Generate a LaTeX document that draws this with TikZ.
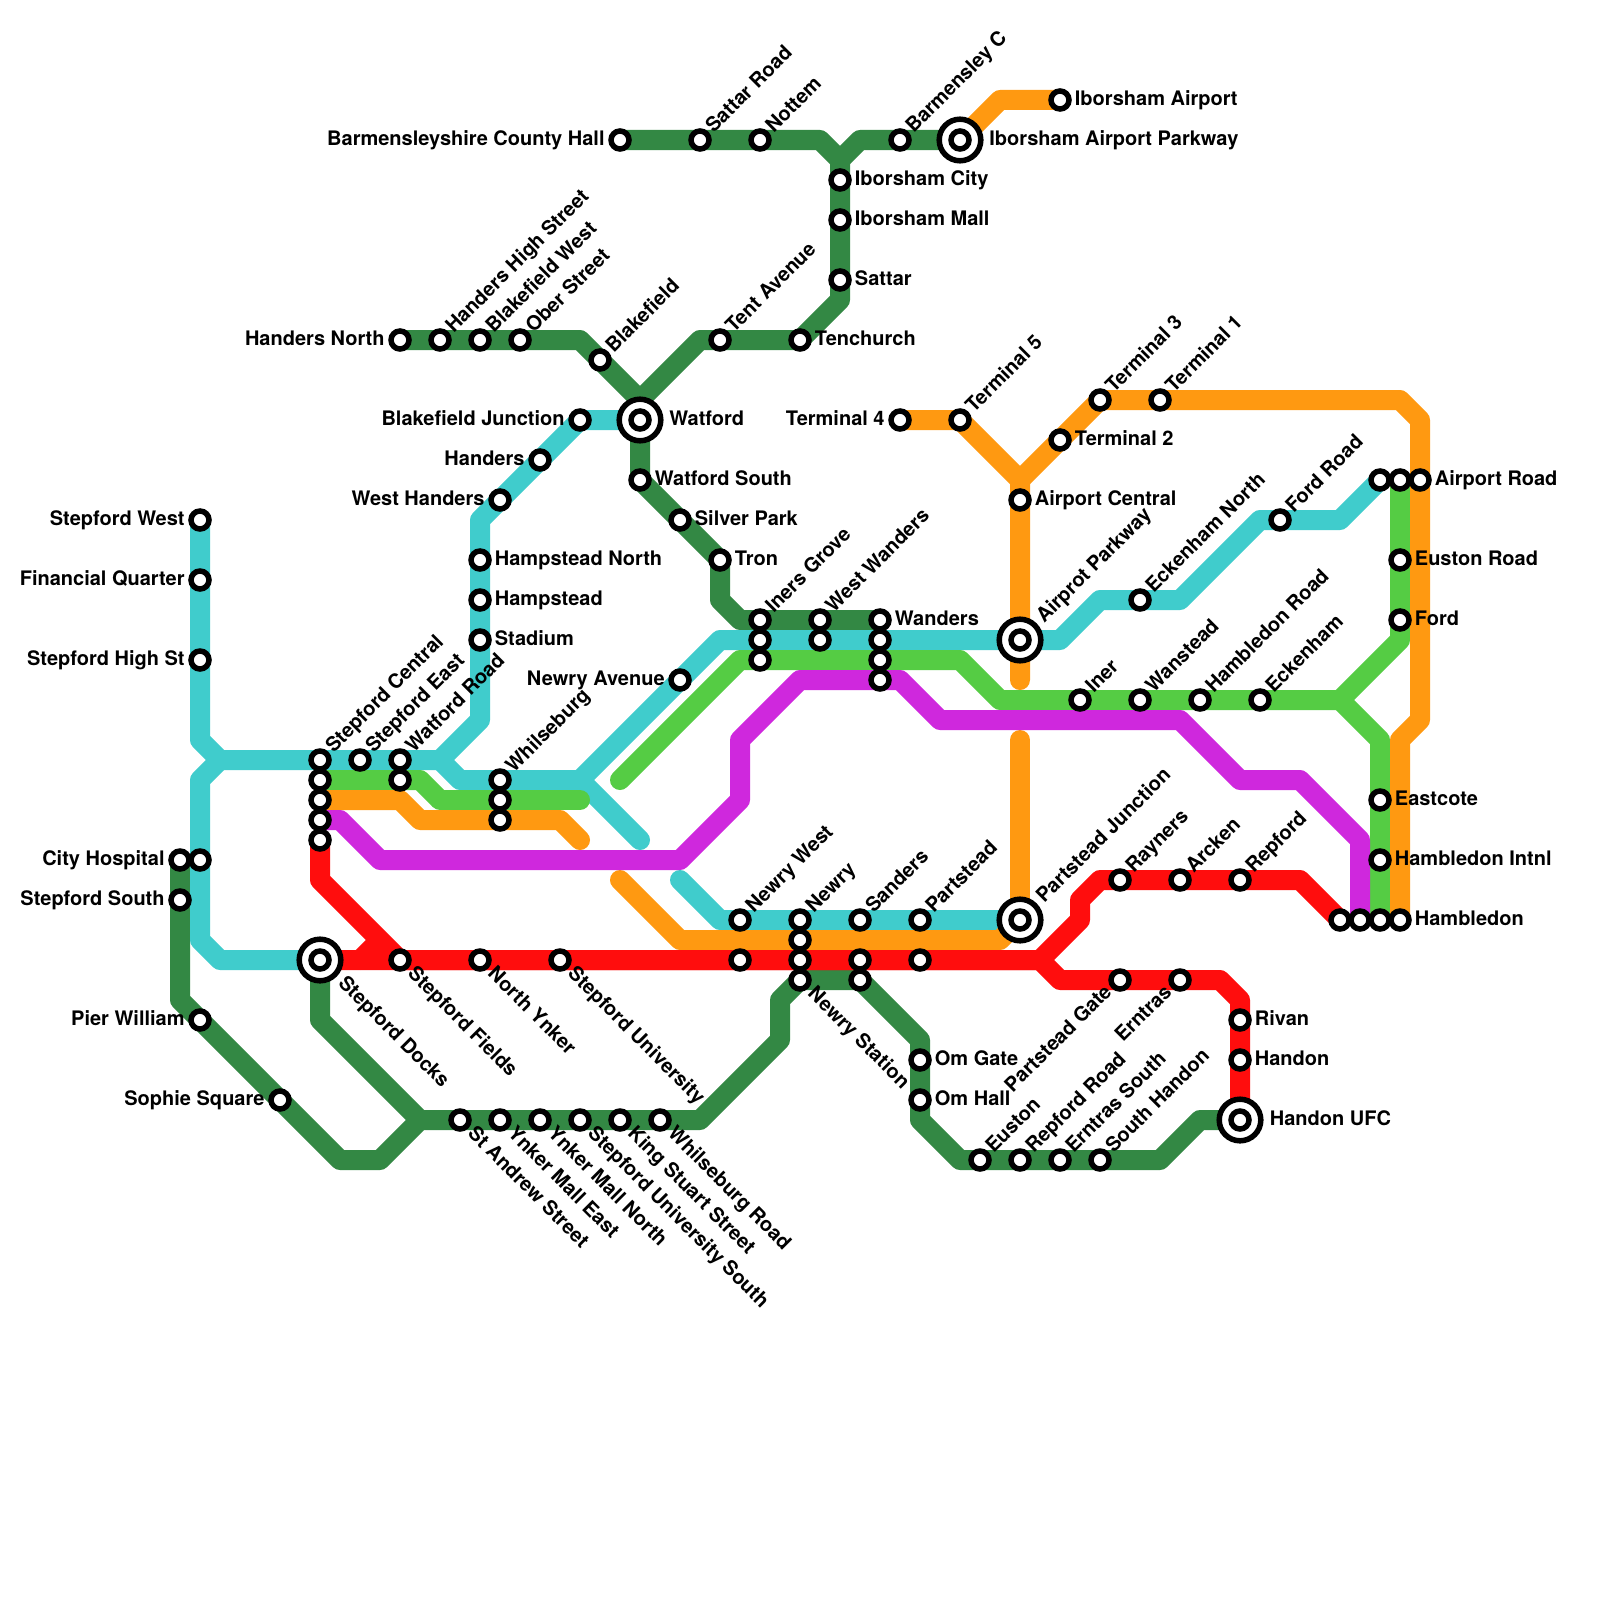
\documentclass[tikz,border=0pt]{standalone}
\usepackage{fontspec}
\setmainfont{TeX Gyre Heros}
\usetikzlibrary{backgrounds}
\definecolor{lred}{HTML}{FF0D0D}
\definecolor{ldg}{HTML}{338844}
\definecolor{lcy}{HTML}{40CCCC}
\definecolor{llg}{HTML}{55CC44}
\definecolor{lor}{HTML}{FF9911}
\definecolor{lpu}{HTML}{CF28DD}
\tikzset{
  metro/.style={line width=10pt,line join=round,line cap=butt},
  cyline/.style={metro,draw=lcy}, dgline/.style={metro,draw=ldg}, lgline/.style={metro,draw=llg},
  orline/.style={metro,draw=lor}, puline/.style={metro,draw=lpu}, rdline/.style={metro,draw=lred},
  roundend/.style={line cap=round},
  stn/.style={circle,draw=black,fill=white,line width=2.75pt,minimum size=9pt,inner sep=0pt},
  hub/.style={circle,draw=black,fill=white,line width=2.75pt,minimum size=20.8pt,inner sep=0pt},
  lbl/.style={inner sep=0pt,font=\bfseries\fontsize{10}{12}\selectfont,text=black},
  lblR/.style={lbl,anchor=base west},
  lblL/.style={lbl,anchor=base east},
  lblU/.style={lbl,anchor=base west,rotate=45},
  lblE/.style={lbl,anchor=base east,rotate=45},
  lblD/.style={lbl,anchor=base west,rotate=-45},
}
\begin{document}
\begin{tikzpicture}[x=0.5pt,y=-0.5pt]
% hubs
\foreach \n/\x/\y in {sd/320/960,wat/640/420,iap/960/140,apw/1020/640,pj/1020/920,hu/1240/1120}
  \node[hub] (\n-ring) at (\x,\y) {};
% unlabelled stations
\foreach \n/\x/\y in {sc2/320/780,sc3/320/800,sc4/320/820,sc5/320/840,wr2/400/780,wb2/500/800,wb3/500/820,
  ig2/760/640,ig3/760/660,ww2/820/640,wa2/880/640,wa3/880/660,wa4/880/680,ch2/200/860,
  nw2/740/960,ne2/800/940,ne3/800/960,sa2/860/960,sa3/860/980,pa2/920/960,
  ham1/1340/920,ham2/1360/920,ham3/1380/920,ar1/1380/480,ar2/1400/480}
  \node[stn] (\n) at (\x,\y) {};
% stations, labelled to the right
\foreach \n/\x/\y/\t in {hn/480/560/Hampstead North,hm/480/600/Hampstead,std/480/640/Stadium,
  ws/640/480/Watford South,sp/680/520/Silver Park,tr/720/560/Tron,tc/800/340/Tenchurch,
  sat/840/280/Sattar,imall/840/220/Iborsham Mall,icity/840/180/Iborsham City,
  ia/1060/100/Iborsham Airport,t2/1060/440/Terminal 2,ac/1020/500/Airport Central,wa/880/620/Wanders,
  ar/1420/480/Airport Road,eu/1400/560/Euston Road,fo/1400/620/Ford,ea/1380/800/Eastcote,
  hi/1380/860/Hambledon Intnl,ham/1400/920/Hambledon,ri/1240/1020/Rivan,ha/1240/1060/Handon,
  og/920/1060/Om Gate,oh/920/1100/Om Hall}{
  \node[stn] (\n) at (\x,\y) {};
  \node[lblR] (\n-l) at (\x+14.5,\y+5.5) {\t};
}
% stations, labelled to the left
\foreach \n/\x/\y/\t in {sw/200/520/Stepford West,fq/200/580/Financial Quarter,sh/200/660/Stepford High St,
  ch/180/860/City Hospital,ss/180/900/Stepford South,pw/200/1020/Pier William,sq/280/1100/Sophie Square,
  hnn/400/340/Handers North,bj/580/420/Blakefield Junction,hd/540/460/Handers,wh/500/500/West Handers,
  na/680/680/Newry Avenue,bc/620/140/Barmensleyshire County Hall,t4/900/420/Terminal 4}{
  \node[stn] (\n) at (\x,\y) {};
  \node[lblL] (\n-l) at (\x-15,\y+5.5) {\t};
}
% stations, labelled up and to the right
\foreach \n/\x/\y/\t in {sc/320/760/Stepford Central,se/360/760/Stepford East,wr/400/760/Watford Road,
  wb/500/780/Whilseburg,hh/440/340/Handers High Street,bw/480/340/Blakefield West,ob/520/340/Ober Street,
  bl/600/360/Blakefield,te/720/340/Tent Avenue,sr/700/140/Sattar Road,no/760/140/Nottem,bm/900/140/Barmensley C,
  t5/960/420/Terminal 5,t3/1100/400/Terminal 3,t1/1160/400/Terminal 1,en/1140/600/Eckenham North,
  fr/1280/520/Ford Road,ig/760/620/Iners Grove,ww/820/620/West Wanders,in/1080/700/Iner,wn/1140/700/Wanstead,
  hr/1200/700/Hambledon Road,ek/1260/700/Eckenham,nw/740/920/Newry West,ne/800/920/Newry,sa/860/920/Sanders,
  pa/920/920/Partstead,ra/1120/880/Rayners,ak/1180/880/Arcken,rp/1240/880/Repford,es/980/1160/Euston,
  rr/1020/1160/Repford Road,ers/1060/1160/Erntras South,sth/1100/1160/South Handon}{
  \node[stn] (\n) at (\x,\y) {};
  \node[lblU] (\n-l) at (\x+13.5,\y-6) {\t};
}
% stations, labelled down and to the left
\foreach \n/\x/\y/\t in {pg/1120/980/Partstead Gate,er/1180/980/Erntras}{
  \node[stn] (\n) at (\x,\y) {};
  \node[lblE] (\n-l) at (\x-7,\y+13) {\t};
}
% stations, labelled down and to the right
\foreach \n/\x/\y/\t in {sf/400/960/Stepford Fields,ny/480/960/North Ynker,su/560/960/Stepford University,
  nst/800/980/Newry Station,sta/460/1120/St Andrew Street,yme/500/1120/Ynker Mall East,ymn/540/1120/Ynker Mall North,
  sus/580/1120/Stepford University South,ks/620/1120/King Stuart Street,wbr/660/1120/Whilseburg Road}{
  \node[stn] (\n) at (\x,\y) {};
  \node[lblD] (\n-l) at (\x+6.5,\y+14.5) {\t};
}
% hub stations with their labels
\node[stn] (sd) at (320,960) {};
\node[lblD] (sd-l) at (337,984) {Stepford Docks};
\node[stn] (wat) at (640,420) {};
\node[lblR] (wat-l) at (669,425.5) {Watford};
\node[stn] (iap) at (960,140) {};
\node[lblR] (iap-l) at (989,145.5) {Iborsham Airport Parkway};
\node[stn] (apw) at (1020,640) {};
\node[lblU] (apw-l) at (1044,624) {Airprot Parkway};
\node[stn] (pj) at (1020,920) {};
\node[lblU] (pj-l) at (1044,904) {Partstead Junction};
\node[stn] (hu) at (1240,1120) {};
\node[lblR] (hu-l) at (1269.5,1125.5) {Handon UFC};
% bends
\foreach \n/\x/\y in {
  a1/200/740,a2/220/760,a3/440/760,a4/480/720,a5/480/520,
  b1/200/780,b2/200/940,b3/220/960,
  c1/460/780,c2/580/780,c3/720/640,c4/1060/640,c5/1100/600,c6/1180/600,c7/1260/520,c8/1340/520,c9/640/840,
  d1/680/880,d2/720/920,
  e1/580/340,e2/640/400,e3/700/340,e4/840/300,e5/840/160,e6/820/140,e7/860/140,
  f1/720/600,f2/740/620,
  g1/180/1000,g2/340/1160,g3/380/1160,g4/420/1120,g5/700/1120,g6/780/1040,g7/780/1000,
  g8/920/1040,g9/920/1120,g10/960/1160,g11/1160/1160,g12/1200/1120,g13/320/1020,
  h1/620/780,h2/740/660,h3/960/660,h4/1000/700,h5/1340/700,h6/1400/640,h7/1380/740,
  i1/420/780,i2/440/800,i3/580/800,
  j1/400/800,j2/420/820,j3/560/820,j4/580/840,
  k1/620/880,k2/680/940,k3/1000/940,k4/1020/740,k5/1020/680,k6/1020/480,k7/1100/400,k8/1400/400,k9/1420/420,
  k10/1420/720,k11/1400/740,k12/1000/100,
  l1/340/820,l2/380/860,l3/680/860,l4/740/800,l5/740/740,l6/800/680,l7/900/680,l8/940/720,l9/1180/720,
  l10/1240/780,l11/1300/780,l12/1360/840,
  m1/320/880,m2/360/960,m3/380/940,m4/1040/960,m5/1080/920,m6/1080/900,m7/1100/880,m8/1300/880,
  m9/1060/980,m10/1220/980,m11/1240/1000}
  \coordinate (\n) at (\x,\y);
\begin{pgfonlayer}{background}
\fill[white] (0,0) rectangle (1600,1600);
% dark green
\draw[dgline] (hnn.center) -- (e1) -- (e2) -- (wat.center);
\draw[dgline] (e2) -- (e3) -- (tc.center) -- (e4) -- (e5) -- (e6) -- (bc.center);
\draw[dgline] (e5) -- (e7) -- (iap.center);
\draw[dgline] (wat.center) -- (ws.center) -- (tr.center) -- (f1) -- (f2) -- (wa.center);
\draw[dgline] (ch.center) -- (g1) -- (g2) -- (g3) -- (g4) -- (g5) -- (g6) -- (g7) -- (nst.center) -- (sa3.center) -- (g8) -- (g9) -- (g10) -- (g11) -- (g12) -- (hu.center);
\draw[dgline] (sd.center) -- (g13) -- (g4);
% cyan
\draw[cyline] (sw.center) -- (a1) -- (a2) -- (a3) -- (a4) -- (a5) -- (bj.center) -- (wat.center);
\draw[cyline] (a2) -- (b1) -- (b2) -- (b3) -- (sd.center);
\draw[cyline] (a3) -- (c1) -- (c2) -- (c3) -- (c4) -- (c5) -- (c6) -- (c7) -- (c8) -- (ar1.center);
\draw[cyline,roundend] (c2) -- (c9);
\draw[cyline,roundend] (d1) -- (d2) -- (pj.center);
% light green
\draw[lgline] (sc2.center) -- (i1) -- (i2);
\draw[lgline,roundend] (i2) -- (i3);
\draw[lgline,roundend] (h1) -- (h2) -- (h3) -- (h4) -- (h5);
\draw[lgline] (h5) -- (h6) -- (ar2.center);
\draw[lgline] (h5) -- (h7) -- (ham3.center);
% orange
\draw[orline] (sc3.center) -- (j1) -- (j2) -- (j3);
\draw[orline,roundend] (j3) -- (j4);
\draw[orline,roundend] (k1) -- (k2) -- (k3) -- (pj.center);
\draw[orline,roundend] (pj.center) -- (k4);
\draw[orline] (k5) -- (k6) -- (t5.center) -- (t4.center);
\draw[orline,roundend] (k5) -- (apw.center);
\draw[orline] (k6) -- (k7) -- (k8) -- (k9) -- (k10) -- (k11) -- (ham.center);
\draw[orline] (iap.center) -- (k12) -- (ia.center);
% purple
\draw[puline] (sc4.center) -- (l1) -- (l2) -- (l3) -- (l4) -- (l5) -- (l6) -- (l7) -- (l8) -- (l9) -- (l10) -- (l11) -- (l12) -- (ham2.center);
% red
\draw[rdline] (sc5.center) -- (m1) -- (sf.center) -- (m4) -- (m5) -- (m6) -- (m7) -- (m8) -- (ham1.center);
\draw[rdline] (sd.center) -- (m2) -- (m3);
\draw[rdline] (m2) -- (m4) -- (m9) -- (m10) -- (m11) -- (hu.center);
\end{pgfonlayer}
\end{tikzpicture}
\end{document}
